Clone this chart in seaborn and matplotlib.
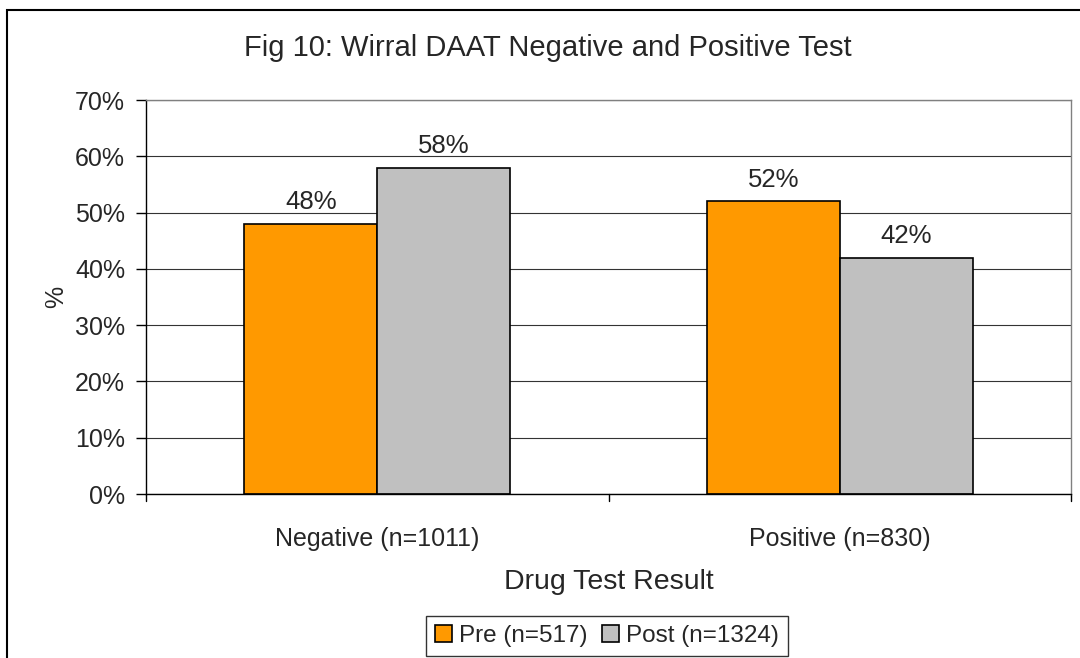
import matplotlib
matplotlib.use("Agg")
import matplotlib.pyplot as plt
import seaborn as sns
import pandas as pd
from matplotlib.patches import Rectangle
from matplotlib.ticker import PercentFormatter, MultipleLocator

categories = ["Negative (n=1011)", "Positive (n=830)"]
series = ["Pre (n=517)", "Post (n=1324)"]
pre_values = [48, 52]
post_values = [58, 42]
colors = ["#FF9900", "#C0C0C0"]

df = pd.DataFrame({
    "cat": categories * 2,
    "series": [series[0]] * 2 + [series[1]] * 2,
    "val": pre_values + post_values,
})

sns.set_theme(style="white")
plt.rcParams["font.family"] = ["Liberation Sans", "DejaVu Sans"]

fig = plt.figure(figsize=(10.8, 6.58), dpi=100)
ax = fig.add_axes([146/1080, 1-494/658, (1071-146)/1080, (494-100)/658])

sns.barplot(data=df, x="cat", y="val", hue="series", palette=colors,
            width=0.575, edgecolor="black", linewidth=1.2, ax=ax, legend=True,
            saturation=1)

ax.set_ylim(0, 70)
ax.set_xlim(-0.5, 1.5)
ax.yaxis.set_major_locator(MultipleLocator(10))
ax.yaxis.set_major_formatter(PercentFormatter(decimals=0))
ax.grid(axis="y", color="#333333", linewidth=0.8)
ax.set_axisbelow(True)
for s in ["top", "right"]:
    ax.spines[s].set_color("#808080")
    ax.spines[s].set_linewidth(1.0)
for s in ["left", "bottom"]:
    ax.spines[s].set_color("black")
    ax.spines[s].set_linewidth(1.0)

ax.tick_params(axis="y", left=True, length=7, width=1, labelsize=18, pad=8, color="black")
ax.tick_params(axis="x", bottom=False, labelsize=18, pad=18)
ax.set_xticks([0, 1])
ax.set_xticklabels(categories)
# category separator ticks
for xv in [-0.5, 0.5, 1.5]:
    ax.plot([xv, xv], [0, -0.018], transform=ax.get_xaxis_transform(), color="black",
            linewidth=1, clip_on=False)

for cont in ax.containers:
    ax.bar_label(cont, labels=[f"{v:.0f}%" for v in cont.datavalues], padding=7, fontsize=18.5)

ax.set_ylabel("%", fontsize=18, labelpad=5)
ax.set_xlabel("Drug Test Result", fontsize=20.5, labelpad=13)

handles, labels = ax.get_legend_handles_labels()
ax.get_legend().remove()
leg = fig.legend(handles, labels, loc="center", bbox_to_anchor=(607/1080, 1-636/658),
                 ncol=2, frameon=True, fontsize=17.5, handlelength=0.7, handleheight=0.7,
                 handletextpad=0.3, columnspacing=0.6, borderpad=0.35, fancybox=False)
leg.get_frame().set_edgecolor("black")
leg.get_frame().set_linewidth(1.0)

fig.text(548/1080, 1-48/658, "Fig 10: Wirral DAAT Negative and Positive Test",
         ha="center", va="center", fontsize=21)

fig.patches.append(Rectangle((7/1080, -0.05), 0.2 + (1075-7)/1080, (1-10/658)+0.05,
                             transform=fig.transFigure, fill=False, edgecolor="black",
                             linewidth=1.5))

fig.savefig("out.png", dpi=100)
